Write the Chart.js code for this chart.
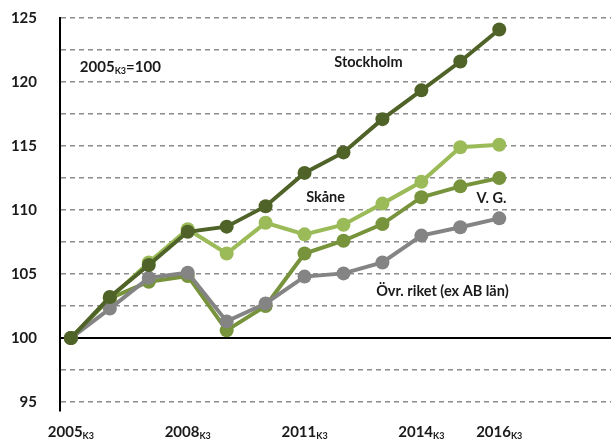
<!DOCTYPE html>
<html>
<head>
<meta charset="utf-8">
<script src="https://cdn.jsdelivr.net/npm/chart.js@4"></script>
<style>
  html, body { margin: 0; padding: 0; background: #fff; }
  #wrap { width: 611px; height: 441px; }
</style>
</head>
<body>
<div id="wrap"><canvas id="c" width="611" height="441"></canvas></div>
<script>
// values (index, 2005 K3 = 100)
const years = [2005, 2006, 2007, 2008, 2009, 2010, 2011, 2012, 2013, 2014, 2015, 2016];
const stockholm = [100, 103.2, 105.7, 108.3, 108.7, 110.3, 112.9, 114.5, 117.1, 119.35, 121.6, 124.1];
const skane = [100, 103.1, 105.9, 108.5, 106.6, 109.0, 108.1, 108.85, 110.5, 112.2, 114.9, 115.1];
const vg = [100, 103.1, 104.4, 104.85, 100.6, 102.5, 106.6, 107.6, 108.9, 111.0, 111.85, 112.5];
const ovrRiket = [100, 102.3, 104.7, 105.1, 101.3, 102.7, 104.8, 105.05, 105.9, 108.0, 108.65, 109.35];

const xTickYears = [2005, 2008, 2011, 2014, 2016];
const yTicks = [95, 97.5, 100, 102.5, 105, 107.5, 110, 112.5, 115, 117.5, 120, 122.5, 125];

const FONT = "Lato, 'Open Sans', sans-serif";

function pts(arr) {
  return arr.map((v, i) => ({ x: years[i], y: v }));
}

function series(label, data, color) {
  return {
    label: label,
    data: pts(data),
    borderColor: color,
    backgroundColor: color,
    borderWidth: 4,
    pointRadius: 7,
    pointHoverRadius: 7,
    pointBorderWidth: 0,
    tension: 0
  };
}

// inline labels placed in data coordinates
const labels = [
  { text: "Stockholm", x: 2012.64, y: 121.55 },
  { text: "Skåne", x: 2011.54, y: 110.97 },
  { text: "V. G.", x: 2015.8, y: 110.9 },
  { text: "Övr. riket (ex AB län)", x: 2014.54, y: 103.68 }
];

const overlay = {
  id: "overlay",
  beforeDatasetsDraw(chart) {
    const ctx = chart.ctx;
    const y = chart.scales.y.getPixelForValue(100);
    ctx.save();
    ctx.strokeStyle = "#000";
    ctx.lineWidth = 2;
    ctx.beginPath();
    ctx.moveTo(chart.chartArea.left, y);
    ctx.lineTo(chart.chartArea.right, y);
    ctx.stroke();
    ctx.restore();
  },
  afterDraw(chart) {
    const ctx = chart.ctx;
    const xs = chart.scales.x;
    const ys = chart.scales.y;
    const big = "bold 15px " + FONT;
    const small = "bold 9px " + FONT;
    ctx.save();
    ctx.fillStyle = "#1a1a1a";

    ctx.textBaseline = "middle";
    ctx.textAlign = "center";
    ctx.font = "bold 14.5px " + FONT;
    labels.forEach(l => {
      ctx.fillText(l.text, xs.getPixelForValue(l.x), ys.getPixelForValue(l.y));
    });

    // x tick labels with subscript K3
    const base = chart.chartArea.bottom + 26;
    ctx.textAlign = "left";
    ctx.textBaseline = "alphabetic";
    xTickYears.forEach(yr => {
      ctx.font = big;
      const w1 = ctx.measureText(String(yr)).width;
      ctx.font = small;
      const w2 = ctx.measureText("K3").width;
      const x0 = xs.getPixelForValue(yr) - (w1 + w2) / 2;
      ctx.font = big;
      ctx.fillText(String(yr), x0, base);
      ctx.font = small;
      ctx.fillText("K3", x0 + w1, base + 2);
    });

    // base note 2005K3=100
    const nx = xs.getPixelForValue(2005.23);
    const ny = ys.getPixelForValue(121.16) + 5;
    ctx.font = big;
    ctx.fillText("2005", nx, ny);
    let w = ctx.measureText("2005").width;
    ctx.font = small;
    ctx.fillText("K3", nx + w, ny + 2);
    w += ctx.measureText("K3").width;
    ctx.font = big;
    ctx.fillText("=100", nx + w, ny);
    ctx.restore();
  }
};

new Chart(document.getElementById("c"), {
  type: "line",
  data: {
    datasets: [
      series("Stockholm", stockholm, "#4f6228"),
      series("Övr. riket (ex AB län)", ovrRiket, "#848484"),
      series("V. G.", vg, "#77933c"),
      series("Skåne", skane, "#9bbb59")
    ]
  },
  options: {
    responsive: false,
    animation: false,
    layout: { autoPadding: false, padding: { top: 18, left: 11, right: 0, bottom: 30 } },
    plugins: {
      legend: { display: false },
      tooltip: { enabled: false }
    },
    scales: {
      x: {
        type: "linear",
        min: 2004.72,
        max: 2018.87,
        display: false
      },
      y: {
        type: "linear",
        min: 94.3,
        max: 125,
        afterBuildTicks(scale) {
          scale.ticks = yTicks.map(v => ({ value: v }));
        },
        afterFit(scale) {
          scale.width = 49;
          scale.paddingTop = 0;
          scale.paddingBottom = 0;
        },
        grid: {
          drawTicks: false,
          color: ctx => (ctx.tick && ctx.tick.value === 100) ? "rgba(0,0,0,0)" : "#8c8c8c",
          lineWidth: 1.5
        },
        border: { display: true, color: "#000", width: 2, dash: [5, 4] },
        ticks: {
          padding: 23,
          color: "#1a1a1a",
          font: { family: FONT, size: 15, weight: "bold" },
          callback: v => (v % 5 === 0 ? String(v) : "")
        }
      }
    }
  },
  plugins: [overlay]
});
</script>
</body>
</html>
